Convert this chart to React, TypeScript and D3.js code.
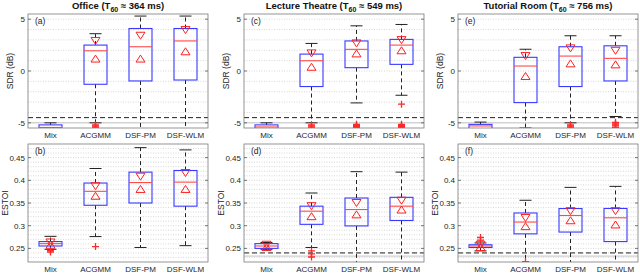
import React from "react"
import * as d3 from "d3"

// room names and reverberation times shown in the titles
const rooms = ["Office", "Lecture Theatre", "Tutorial Room"]
const t60 = ["364", "549", "756"]
const tagsTop = ["(a)", "(c)", "(e)"]
const tagsBottom = ["(b)", "(d)", "(f)"]
const methods = ["Mix", "ACGMM", "DSF-PM", "DSF-WLM"]

// box stats: [lowWhisker, q1, median, q3, highWhisker, notchLow, notchHigh]
type Stat = [number, number, number, number, number, number | null, number | null]

const sdrOffice: Stat[] = [
	[-5.9, -5.6, -5.45, -5.2, -5.0, null, null],
	[-5.0, -1.28, 1.95, 2.5, 3.6, 1.2, 2.9],
	[-6.5, -0.96, 2.34, 4.1, 5.3, 1.2, 3.4],
	[-6.5, -0.87, 2.9, 4.1, 5.3, 1.9, 3.95],
]
const sdrLecture: Stat[] = [
	[-5.9, -5.6, -5.4, -5.2, -5.0, null, null],
	[-5.0, -1.5, 0.99, 1.63, 2.66, 0.41, 1.7],
	[-3.08, 0.32, 2.09, 2.9, 4.36, 1.7, 2.66],
	[-2.34, 0.64, 2.5, 3.05, 4.49, 2.0, 2.98],
]
const sdrTutorial: Stat[] = [
	[-5.9, -5.6, -5.3, -5.15, -4.93, null, null],
	[-5.5, -3.05, 0.48, 1.32, 2.1, -0.48, 1.44],
	[-5.0, -1.5, 1.44, 2.34, 3.4, 0.74, 2.18],
	[-4.39, -0.96, 1.22, 2.43, 3.4, 0.64, 1.95],
]
const sdrOutOffice = [[], [-5.2, -5.3, -5.4, -5.5], [], []]
const sdrOutLecture = [[], [-5.2, -5.3, -5.4, -5.5], [-5.15, -5.25, -5.35, -5.45], [-3.2, -5.15, -5.25, -5.35, -5.45]]
const sdrOutTutorial = [[], [], [-5.2, -5.3, -5.4, -5.5], [-4.95, -5.1, -5.2, -5.3, -5.45]]

const estoiOffice: Stat[] = [
	[0.248, 0.2553, 0.2605, 0.265, 0.2765, 0.258, 0.263],
	[0.276, 0.345, 0.3757, 0.394, 0.426, 0.366, 0.387],
	[0.252, 0.35, 0.395, 0.418, 0.472, 0.381, 0.408],
	[0.256, 0.343, 0.396, 0.4216, 0.467, 0.381, 0.416],
]
const estoiLecture: Stat[] = [
	[0.248, 0.25, 0.2553, 0.2605, 0.263, 0.253, 0.258],
	[0.252, 0.303, 0.332, 0.343, 0.372, 0.321, 0.343],
	[0.2, 0.2995, 0.3356, 0.361, 0.419, 0.325, 0.35],
	[0.2, 0.3115, 0.343, 0.3625, 0.418, 0.3356, 0.355],
]
const estoiTutorial: Stat[] = [
	[0.2445, 0.252, 0.2553, 0.258, 0.262, 0.253, 0.258],
	[0.21, 0.282, 0.308, 0.328, 0.356, 0.299, 0.317],
	[0.2, 0.286, 0.3225, 0.3378, 0.3844, 0.312, 0.332],
	[0.2, 0.265, 0.3174, 0.338, 0.3866, 0.3027, 0.332],
]
const estoiOutOffice = [[0.242, 0.245], [0.254], [], []]
const estoiOutLecture = [[], [0.2445, 0.238, 0.231], [], []]
const estoiOutTutorial = [[0.268, 0.274], [0.221], [], []]

// reference lines: dashed and grey solid
const sdrDashed = [-4.5, -4.5, -4.5]
const sdrGrey = [-5.0, -5.0, -5.0]
const estoiDashed = [null, 0.24, 0.24]
const estoiGrey = [null, 0.233, 0.233]

const sdrTicks = [-5, 0, 5]
const estoiTicks = [0.25, 0.3, 0.35, 0.4, 0.45]

const font = "'Liberation Sans', Arial, sans-serif"
const panelLeft = [28, 244, 458]
const panelW = 180

function BoxPanel({ id, x0, top, bottom, domain, ticks, tickFmt, minor, stats, outliers, dashed, grey, tag, yLabel, labelOffset }: any) {
	const x = d3.scaleBand().domain(methods).range([x0, x0 + panelW])
	const y = d3.scaleLinear().domain(domain).range([bottom, top])
	const boxW = 23
	const capW = 12
	const triW = 4.5
	const triH = 3.5
	return (
		<g>
			<defs>
				<clipPath id={id}>
					<rect x={x0} y={top} width={panelW} height={bottom - top} />
				</clipPath>
			</defs>
			<rect x={x0} y={top} width={panelW} height={bottom - top} fill="#fff" />
			{minor.map((v: number, i: number) => (
				<line key={"g" + i} x1={x0} x2={x0 + panelW} y1={y(v)} y2={y(v)} stroke="#bdbdbd" strokeWidth={0.6} strokeDasharray="1,1.5" />
			))}
			<g clipPath={`url(#${id})`}>
				{grey != null && <line x1={x0} x2={x0 + panelW} y1={y(grey)} y2={y(grey)} stroke="#c4c4c4" strokeWidth={1} />}
				{dashed != null && <line x1={x0} x2={x0 + panelW} y1={y(dashed)} y2={y(dashed)} stroke="#222" strokeWidth={1} strokeDasharray="5,3" />}
				{stats.map((s: Stat, i: number) => {
					const cx = (x(methods[i]) as number) + x.bandwidth() / 2
					const [lo, q1, med, q3, hi, nLo, nHi] = s
					return (
						<g key={i}>
							<line x1={cx} x2={cx} y1={y(q3)} y2={y(hi)} stroke="#222" strokeDasharray="4,3" strokeWidth={1} />
							<line x1={cx} x2={cx} y1={y(q1)} y2={y(lo)} stroke="#222" strokeDasharray="4,3" strokeWidth={1} />
							<line x1={cx - capW / 2} x2={cx + capW / 2} y1={y(hi)} y2={y(hi)} stroke="#222" strokeWidth={1} />
							<line x1={cx - capW / 2} x2={cx + capW / 2} y1={y(lo)} y2={y(lo)} stroke="#222" strokeWidth={1} />
							<rect x={cx - boxW / 2} y={y(q3)} width={boxW} height={y(q1) - y(q3)} fill="none" stroke="#3a3aff" strokeWidth={1.1} />
							<line x1={cx - boxW / 2} x2={cx + boxW / 2} y1={y(med)} y2={y(med)} stroke="#ff4a4a" strokeWidth={1.1} />
							{nHi != null && (
								<path
									d={`M${cx - triW},${y(nHi) - triH}L${cx + triW},${y(nHi) - triH}L${cx},${y(nHi) + triH}Z`}
									fill="none"
									stroke="#ff2020"
									strokeWidth={1}
								/>
							)}
							{nLo != null && (
								<path
									d={`M${cx - triW},${y(nLo) + triH}L${cx + triW},${y(nLo) + triH}L${cx},${y(nLo) - triH}Z`}
									fill="none"
									stroke="#ff2020"
									strokeWidth={1}
								/>
							)}
							{outliers[i].map((o: number, j: number) => (
								<path key={j} d={`M${cx - 3.5},${y(o)}h7M${cx},${y(o) - 3.5}v7`} stroke="#ff2828" strokeWidth={1.3} />
							))}
						</g>
					)
				})}
			</g>
			<rect x={x0} y={top} width={panelW} height={bottom - top} fill="none" stroke="#7a7a7a" strokeWidth={0.8} />
			{ticks.map((t: number, i: number) => (
				<g key={"t" + i}>
					<line x1={x0} x2={x0 + 3} y1={y(t)} y2={y(t)} stroke="#555" strokeWidth={0.8} />
					<line x1={x0 + panelW - 3} x2={x0 + panelW} y1={y(t)} y2={y(t)} stroke="#555" strokeWidth={0.8} />
					<text x={x0 - 3} y={y(t) + 3} textAnchor="end" fontSize={8} fill="#262626">
						{tickFmt(t)}
					</text>
				</g>
			))}
			{methods.map((m, i) => (
				<text key={m} x={(x(m) as number) + x.bandwidth() / 2} y={bottom + 10} textAnchor="middle" fontSize={8} fill="#262626">
					{m}
				</text>
			))}
			<text x={x0 + 7} y={top + 10} fontSize={8.5} fill="#262626">
				{tag}
			</text>
			<text transform={`translate(${x0 - labelOffset},${(top + bottom) / 2}) rotate(-90)`} textAnchor="middle" fontSize={8.5} fill="#262626">
				{yLabel}
			</text>
		</g>
	)
}

export default function App() {
	const sdrStats = [sdrOffice, sdrLecture, sdrTutorial]
	const sdrOut = [sdrOutOffice, sdrOutLecture, sdrOutTutorial]
	const estoiStats = [estoiOffice, estoiLecture, estoiTutorial]
	const estoiOut = [estoiOutOffice, estoiOutLecture, estoiOutTutorial]
	const sdrMinor = d3.range(-5, 6, 1)
	const estoiMinor = d3.range(23, 48, 1).map((d) => d / 100)

	return (
		<svg width={640} height={275} style={{ position: "absolute", left: 0, top: 0, fontFamily: font }}>
			<rect width={640} height={275} fill="#fff" />
			{rooms.map((r, c) => (
				<g key={r}>
					<text x={panelLeft[c] + panelW / 2} y={9} textAnchor="middle" fontSize={9.5} fontWeight="bold" fill="#111">
						{r} (T<tspan fontSize={7} dy={2.5}>60</tspan>
						<tspan dy={-2.5}> ≈ {t60[c]} ms)</tspan>
					</text>
					<BoxPanel
						id={"clipTop" + c}
						x0={panelLeft[c]}
						top={14}
						bottom={128}
						domain={[-5.5, 5.5]}
						ticks={sdrTicks}
						tickFmt={(t: number) => (t < 0 ? "-" + Math.abs(t) : String(t))}
						minor={sdrMinor}
						stats={sdrStats[c]}
						outliers={sdrOut[c]}
						dashed={sdrDashed[c]}
						grey={sdrGrey[c]}
						tag={tagsTop[c]}
						yLabel="SDR (dB)"
						labelOffset={15}
					/>
					<BoxPanel
						id={"clipBottom" + c}
						x0={panelLeft[c]}
						top={144}
						bottom={262}
						domain={[0.22, 0.48]}
						ticks={estoiTicks}
						tickFmt={(t: number) => String(t)}
						minor={estoiMinor}
						stats={estoiStats[c]}
						outliers={estoiOut[c]}
						dashed={estoiDashed[c]}
						grey={estoiGrey[c]}
						tag={tagsBottom[c]}
						yLabel="ESTOI"
						labelOffset={20}
					/>
				</g>
			))}
		</svg>
	)
}
